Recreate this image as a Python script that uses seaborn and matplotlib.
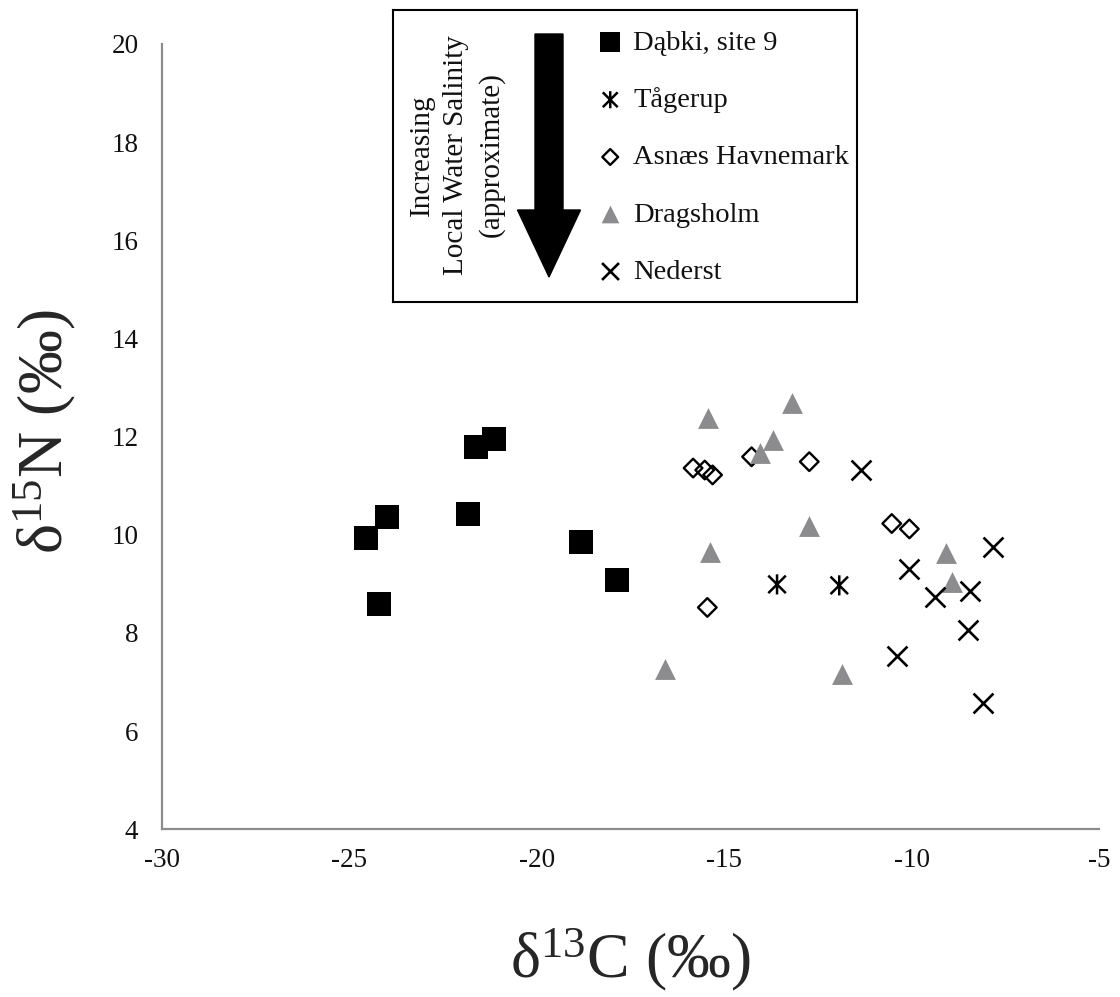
import numpy as np
import pandas as pd
import matplotlib
matplotlib.use("Agg")
import matplotlib.pyplot as plt
from matplotlib.path import Path
from matplotlib.patches import FancyArrow
import seaborn as sns

# Stable isotope values (δ13C, δ15N in ‰) for each site
dabki_c = [-24.56, -24.01, -24.22, -21.83, -21.63, -21.14, -18.83, -17.87]
dabki_n = [9.94, 10.37, 8.60, 10.42, 11.78, 11.95, 9.85, 9.08]

tagerup_c = [-13.59, -11.93]
tagerup_n = [8.99, 8.97]

asnaes_c = [-15.83, -15.52, -15.31, -14.27, -12.73, -10.53, -10.06, -15.45]
asnaes_n = [11.36, 11.32, 11.22, 11.59, 11.49, 10.23, 10.12, 8.52]

dragsholm_c = [-15.44, -13.20, -13.71, -14.05, -12.74, -15.38, -9.08, -8.93, -16.57, -11.86]
dragsholm_n = [12.37, 12.68, 11.93, 11.66, 10.17, 9.64, 9.62, 9.04, 7.26, 7.17]

nederst_c = [-7.84, -10.06, -9.38, -8.43, -8.49, -10.40, -8.09, -11.36]
nederst_n = [9.76, 9.30, 8.73, 8.86, 8.06, 7.54, 6.58, 11.33]

sites = ["Dąbki, site 9", "Tågerup", "Asnæs Havnemark", "Dragsholm", "Nederst"]
x_ticks = [-30, -25, -20, -15, -10, -5]
y_ticks = [4, 6, 8, 10, 12, 14, 16, 18, 20]

df = pd.concat([
    pd.DataFrame({"d13C": c, "d15N": n, "site": s})
    for c, n, s in zip(
        [dabki_c, tagerup_c, asnaes_c, dragsholm_c, nederst_c],
        [dabki_n, tagerup_n, asnaes_n, dragsholm_n, nederst_n],
        sites,
    )
], ignore_index=True)

sns.set_style("white")
plt.rcParams["font.family"] = ["Liberation Serif", "DejaVu Serif"]
plt.rcParams["mathtext.fontset"] = "custom"
plt.rcParams["mathtext.rm"] = "Liberation Serif"
plt.rcParams["mathtext.it"] = "Liberation Serif:italic"
plt.rcParams["mathtext.bf"] = "Liberation Serif:bold"

W, H = 1120, 997
fig = plt.figure(figsize=(W / 100, H / 100), dpi=100)
ax = fig.add_axes([162 / W, 1 - 829.3 / H, 937 / W, 785.3 / H])

# asterisk: vertical bar crossed by an X
asterisk = Path(
    [(0, -1), (0, 1), (-0.87, -0.87), (0.87, 0.87), (-0.87, 0.87), (0.87, -0.87)],
    [Path.MOVETO, Path.LINETO, Path.MOVETO, Path.LINETO, Path.MOVETO, Path.LINETO],
)

styles = {
    "Dąbki, site 9": dict(marker="s", s=275, color="black", linewidth=0),
    "Tågerup": dict(marker=asterisk, s=210, color="black", facecolor="none",
                    edgecolor="black", linewidth=1.8),
    "Asnæs Havnemark": dict(marker="D", s=90, color="black", facecolor="none",
                            edgecolor="black", linewidth=1.7),
    "Dragsholm": dict(marker="^", s=225, color="#8c8c8e", linewidth=0),
    "Nederst": dict(marker="x", s=205, color="black", linewidth=1.9),
}

for site in sites:
    sub = df[df["site"] == site]
    sns.scatterplot(data=sub, x="d13C", y="d15N", ax=ax, label=site,
                    legend=False, zorder=3, **styles[site])

ax.set_xlim(-30, -5)
ax.set_ylim(4, 20)
ax.set_xticks(x_ticks)
ax.set_yticks(y_ticks)
ax.set_xticklabels([str(v) for v in x_ticks])
ax.set_yticklabels([str(v) for v in y_ticks])

axis_grey = "#8c8c8c"
for side in ["top", "right"]:
    ax.spines[side].set_visible(False)
for side in ["left", "bottom"]:
    ax.spines[side].set_color(axis_grey)
    ax.spines[side].set_linewidth(1.6)
ax.tick_params(axis="both", direction="out", length=5, width=1.4,
               color=axis_grey, labelcolor="#111111", labelsize=19.5)
ax.tick_params(axis="x", pad=8.5)
ax.tick_params(axis="y", pad=12)

ax.set_xlabel(r"δ$^{13}$C (‰)", fontsize=46, va="center")
ax.set_ylabel(r"δ$^{15}$N (‰)", fontsize=46, va="center")
ax.xaxis.set_label_coords(0.5, (829.3 - 960) / 785.3)
ax.yaxis.set_label_coords((45 - 162) / 937, (829.3 - 432) / 785.3)

# key box with the salinity arrow and the site legend
bx, by, bw, bh = 393, 10, 464, 292
box = fig.add_axes([bx / W, 1 - (by + bh) / H, bw / W, bh / H])
box.set_xlim(0, bw)
box.set_ylim(bh, 0)
box.set_xticks([])
box.set_yticks([])
box.set_facecolor("white")
for sp in box.spines.values():
    sp.set_color("black")
    sp.set_linewidth(1.5)

box.add_patch(FancyArrow(156, 24, 0, 243, width=28, head_width=63,
                         head_length=67, length_includes_head=True,
                         color="black"))
box.text(63.7, 145, "Increasing\nLocal Water Salinity\n(approximate)",
         rotation=90, ha="center", va="center", multialignment="center",
         fontsize=21, linespacing=1.4, color="#111111")

handles, labels = ax.get_legend_handles_labels()
box.legend(handles, labels, loc="center left",
           bbox_to_anchor=(596 / W, 1 - 157.5 / H), bbox_transform=fig.transFigure,
           frameon=False, fontsize=20.5, handlelength=1.0, handletextpad=0.3,
           labelspacing=1.1, borderpad=0, borderaxespad=0, scatterpoints=1,
           markerscale=0.85, labelcolor="#111111")

fig.savefig("out.png", dpi=100, facecolor="white")
